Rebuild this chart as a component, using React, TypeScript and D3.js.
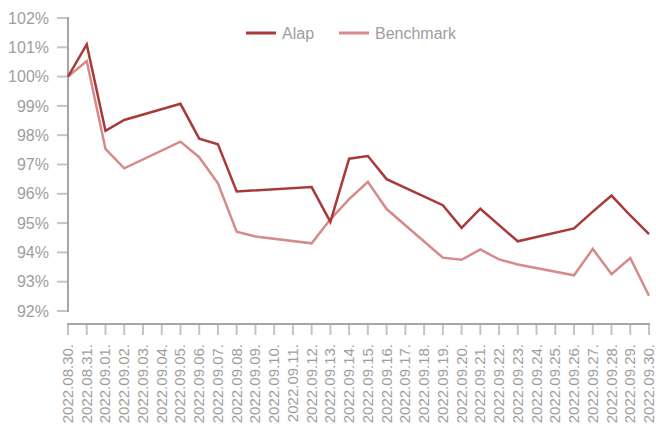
import * as d3 from "d3";
import { useEffect, useRef } from "react";

// dates on the x axis (weekends have no values, lines run straight across them)
const dates = [
  "2022.08.30.", "2022.08.31.", "2022.09.01.", "2022.09.02.", "2022.09.03.", "2022.09.04.",
  "2022.09.05.", "2022.09.06.", "2022.09.07.", "2022.09.08.", "2022.09.09.", "2022.09.10.",
  "2022.09.11.", "2022.09.12.", "2022.09.13.", "2022.09.14.", "2022.09.15.", "2022.09.16.",
  "2022.09.17.", "2022.09.18.", "2022.09.19.", "2022.09.20.", "2022.09.21.", "2022.09.22.",
  "2022.09.23.", "2022.09.24.", "2022.09.25.", "2022.09.26.", "2022.09.27.", "2022.09.28.",
  "2022.09.29.", "2022.09.30.",
];

const alap = [
  100, 101.1, 98.15, 98.52, null, null,
  99.07, 97.88, 97.69, 96.08, null, null,
  null, 96.23, 95.04, 97.2, 97.29, 96.5,
  null, null, 95.61, 94.84, 95.49, 94.93,
  94.38, null, null, 94.82, 95.39, 95.94,
  95.26, 94.62,
];

const benchmark = [
  100, 100.53, 97.53, 96.87, null, null,
  97.78, 97.25, 96.36, 94.71, 94.54, null,
  null, 94.31, 95.13, 95.82, 96.41, 95.48,
  null, null, 93.82, 93.75, 94.1, 93.76,
  93.59, null, null, 93.22, 94.12, 93.26,
  93.81, 92.52,
];

const yTicks = [92, 93, 94, 95, 96, 97, 98, 99, 100, 101, 102];

const series = [
  { name: "Alap", values: alap, color: "#A83A3A" },
  { name: "Benchmark", values: benchmark, color: "#D68A8A" },
];

export default function App() {
  const svgRef = useRef<SVGSVGElement>(null);
  const width = 656;
  const height = 427;
  const font = "'Liberation Sans', Arial, Helvetica, sans-serif";

  useEffect(() => {
    const svg = d3.select(svgRef.current);
    svg.selectAll("*").remove();

    const x = d3.scalePoint<string>().domain(dates).range([68, 649]);
    const y = d3.scaleLinear().domain([92, 102]).range([311, 18]);

    // y axis
    const yAxis = svg.append("g");
    yAxis.append("line")
      .attr("x1", 68).attr("x2", 68)
      .attr("y1", y(102) - 1).attr("y2", y(92) + 1)
      .attr("stroke", "#A6A6A6").attr("stroke-width", 2);
    yAxis.selectAll("line.tick")
      .data(yTicks)
      .join("line")
      .attr("class", "tick")
      .attr("x1", 57).attr("x2", 67)
      .attr("y1", d => y(d)).attr("y2", d => y(d))
      .attr("stroke", "#C4C4C4").attr("stroke-width", 2);
    yAxis.selectAll("text")
      .data(yTicks)
      .join("text")
      .attr("x", 49)
      .attr("y", d => y(d))
      .attr("dy", "0.35em")
      .attr("text-anchor", "end")
      .attr("fill", "#9E9E9E")
      .attr("font-family", font)
      .attr("font-size", 16)
      .text(d => `${d}%`);

    // x axis
    const xAxis = svg.append("g");
    xAxis.append("line")
      .attr("x1", 67).attr("x2", 650)
      .attr("y1", 324).attr("y2", 324)
      .attr("stroke", "#A6A6A6").attr("stroke-width", 2);
    xAxis.selectAll("line.tick")
      .data(dates)
      .join("line")
      .attr("class", "tick")
      .attr("x1", d => x(d)!).attr("x2", d => x(d)!)
      .attr("y1", 325).attr("y2", 335)
      .attr("stroke", "#C4C4C4").attr("stroke-width", 2);
    xAxis.selectAll("text")
      .data(dates)
      .join("text")
      .attr("transform", d => `translate(${x(d)! + 5},344) rotate(-90)`)
      .attr("text-anchor", "end")
      .attr("fill", "#9E9E9E")
      .attr("font-family", font)
      .attr("font-size", 15)
      .text(d => d);

    // lines
    const line = d3.line<[string, number]>()
      .x(d => x(d[0])!)
      .y(d => y(d[1]));

    series.slice().reverse().forEach(s => {
      const pts = dates
        .map((d, i) => [d, s.values[i]] as [string, number | null])
        .filter(p => p[1] != null) as [string, number][];
      svg.append("path")
        .attr("fill", "none")
        .attr("stroke", s.color)
        .attr("stroke-width", 2.5)
        .attr("stroke-linejoin", "miter")
        .attr("d", line(pts));
    });

    // legend
    const legendX = [246, 339];
    series.forEach((s, i) => {
      const g = svg.append("g").attr("transform", `translate(${legendX[i]},33)`);
      g.append("line")
        .attr("x1", 0).attr("x2", 30)
        .attr("stroke", s.color).attr("stroke-width", 3);
      g.append("text")
        .attr("x", 36).attr("dy", "0.35em")
        .attr("fill", "#9E9E9E")
        .attr("font-family", font)
        .attr("font-size", 16)
        .text(s.name);
    });
  }, []);

  return (
    <svg
      ref={svgRef}
      width={width}
      height={height}
      style={{ position: "absolute", left: 0, top: 0, background: "#fff" }}
      xmlns="http://www.w3.org/2000/svg"
    />
  );
}
